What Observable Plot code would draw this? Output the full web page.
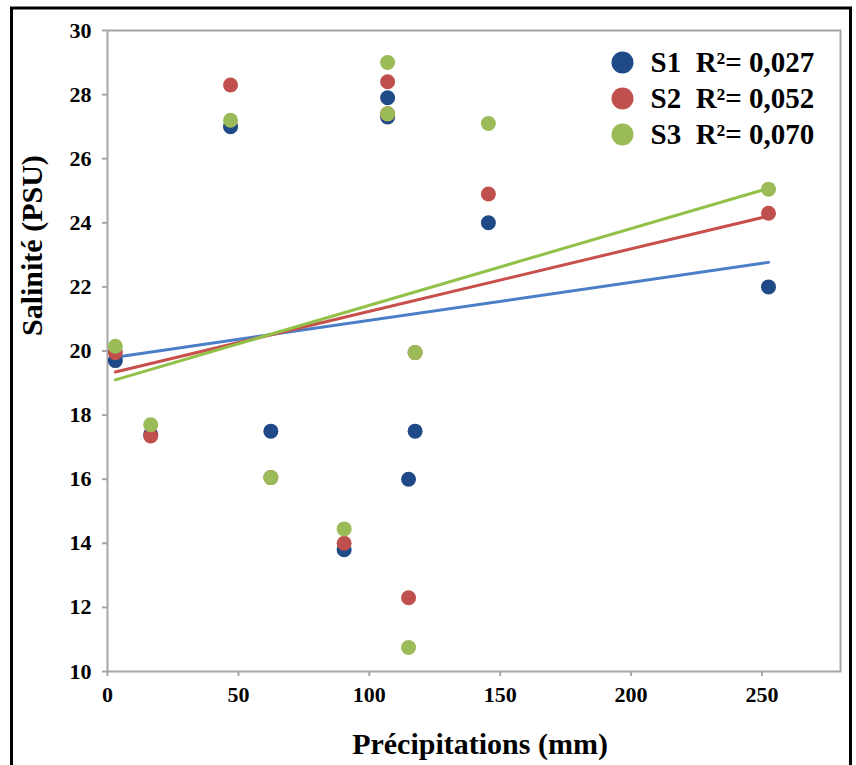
<!DOCTYPE html>
<html>
<head>
<meta charset="utf-8">
<script src="https://cdn.jsdelivr.net/npm/d3@7"></script>
<script src="https://cdn.jsdelivr.net/npm/@observablehq/plot@0.6"></script>
<style>
  body { margin: 0; background: #fff; }
  #chart { width: 856px; height: 765px; }
</style>
</head>
<body>
<div id="chart"></div>
<script>
// Monthly precipitation (mm) and salinity (PSU) at three stations
const precipitation = [3, 16.5, 47, 62.4, 90.4, 107, 107, 115, 117.5, 145.5, 252.5];
const salinityS1 = [19.7, 17.4, 27.0, 17.5, 13.8, 27.9, 27.3, 16.0, 17.5, 24.0, 22.0];
const salinityS2 = [19.95, 17.35, 28.3, 16.05, 14.0, 28.4, 27.4, 12.3, 19.95, 24.9, 24.3];
const salinityS3 = [20.15, 17.7, 27.2, 16.05, 14.45, 29.0, 27.4, 10.75, 19.95, 27.1, 25.05];
const seriesNames = ["S1", "S2", "S3"];
const rSquared = ["0,027", "0,052", "0,070"];
const xTicks = [0, 50, 100, 150, 200, 250];
const yTicks = [10, 12, 14, 16, 18, 20, 22, 24, 26, 28, 30];

const dotColors = ["#1f4a87", "#c0504d", "#9bbb59"];
const lineColors = ["#4a7ec6", "#c8504c", "#92c14a"];
const serif = "'Liberation Serif', 'Times New Roman', serif";

const salinity = [salinityS1, salinityS2, salinityS3];
const rows = seriesNames.map((s, i) =>
  precipitation.map((p, j) => ({series: s, precipitation: p, salinity: salinity[i][j]}))
);

const marks = [
  Plot.frame({stroke: "#a6a6a6", strokeWidth: 2}),
  Plot.axisX({ticks: xTicks, tickSize: 5, tickPadding: 10, stroke: "#a6a6a6", strokeWidth: 2,
    fill: "#000", fontSize: 22, fontWeight: "bold", label: null}),
  Plot.axisY({ticks: yTicks, tickSize: 5, tickPadding: 11, stroke: "#a6a6a6", strokeWidth: 2,
    fill: "#000", fontSize: 22, fontWeight: "bold", label: null})
];

// least-squares trend line for each station
rows.forEach((data, i) => {
  marks.push(Plot.linearRegressionY(data, {x: "precipitation", y: "salinity", ci: 0,
    stroke: lineColors[i], strokeWidth: 3}));
});

// stations drawn in order so S3 sits on top
rows.forEach((data, i) => {
  marks.push(Plot.dot(data, {x: "precipitation", y: "salinity", r: 7.5, fill: dotColors[i]}));
});

// legend in the top-right corner of the plot area
seriesNames.forEach((s, i) => {
  marks.push(Plot.dot([s], {frameAnchor: "top-right", dx: -218, dy: 32 + i * 36, r: 11, fill: dotColors[i]}));
  marks.push(Plot.text([`${s}\u00a0 R²= ${rSquared[i]}`], {frameAnchor: "top-right", dx: -190, dy: 32 + i * 36,
    textAnchor: "start", lineAnchor: "middle", fontSize: 29, fontWeight: "bold", fill: "#000"}));
});

// axis titles
marks.push(Plot.text(["Précipitations (mm)"], {frameAnchor: "bottom", dx: 6, dy: 73,
  lineAnchor: "middle", fontSize: 30, fontWeight: "bold", fill: "#000"}));
marks.push(Plot.text(["Salinité (PSU)"], {frameAnchor: "left", dx: -75, dy: -15, rotate: -90,
  lineAnchor: "middle", fontSize: 30, fontWeight: "bold", fill: "#000"}));

const chart = Plot.plot({
  width: 856,
  height: 765,
  marginLeft: 107,
  marginTop: 30,
  marginRight: 16,
  marginBottom: 94,
  style: {fontFamily: serif, background: "#fff", overflow: "visible"},
  x: {domain: [0, 280]},
  y: {domain: [10, 30]},
  marks
});

// black border around the whole figure
d3.select(chart).append("rect")
  .attr("x", 11.5).attr("y", 8).attr("width", 839).attr("height", 800)
  .attr("fill", "none").attr("stroke", "#000").attr("stroke-width", 3);

document.getElementById("chart").append(chart);
</script>
</body>
</html>
